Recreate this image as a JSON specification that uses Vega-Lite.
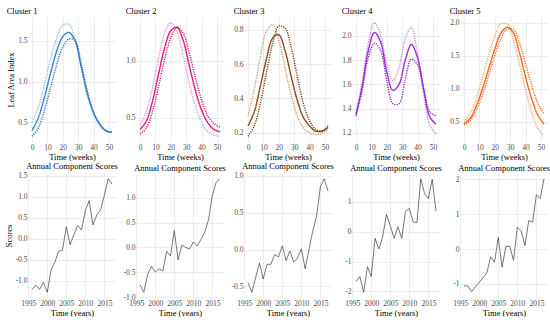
{
"$schema": "https://vega.github.io/schema/vega-lite/v6.json",
"padding": {"left": 4, "top": 6, "right": 0, "bottom": 0},
"background": "white",
"datasets": {
"lai": [
{"c":1,"s":"a","w":0,"v":0.50},{"c":1,"s":"a","w":4,"v":0.68},{"c":1,"s":"a","w":8,"v":0.96},{"c":1,"s":"a","w":12,"v":1.27},{"c":1,"s":"a","w":16,"v":1.53},{"c":1,"s":"a","w":20,"v":1.69},{"c":1,"s":"a","w":24,"v":1.70},{"c":1,"s":"a","w":28,"v":1.52},{"c":1,"s":"a","w":32,"v":1.17},{"c":1,"s":"a","w":36,"v":0.83},{"c":1,"s":"a","w":40,"v":0.60},{"c":1,"s":"a","w":44,"v":0.46},{"c":1,"s":"a","w":48,"v":0.39},{"c":1,"s":"a","w":52,"v":0.37},
{"c":1,"s":"m","w":0,"v":0.40},{"c":1,"s":"m","w":4,"v":0.55},{"c":1,"s":"m","w":8,"v":0.80},{"c":1,"s":"m","w":12,"v":1.10},{"c":1,"s":"m","w":16,"v":1.37},{"c":1,"s":"m","w":20,"v":1.55},{"c":1,"s":"m","w":24,"v":1.60},{"c":1,"s":"m","w":28,"v":1.50},{"c":1,"s":"m","w":32,"v":1.18},{"c":1,"s":"m","w":36,"v":0.85},{"c":1,"s":"m","w":40,"v":0.62},{"c":1,"s":"m","w":44,"v":0.48},{"c":1,"s":"m","w":48,"v":0.40},{"c":1,"s":"m","w":52,"v":0.38},
{"c":1,"s":"d","w":0,"v":0.33},{"c":1,"s":"d","w":4,"v":0.43},{"c":1,"s":"d","w":8,"v":0.64},{"c":1,"s":"d","w":12,"v":0.92},{"c":1,"s":"d","w":16,"v":1.20},{"c":1,"s":"d","w":20,"v":1.42},{"c":1,"s":"d","w":24,"v":1.52},{"c":1,"s":"d","w":28,"v":1.50},{"c":1,"s":"d","w":32,"v":1.22},{"c":1,"s":"d","w":36,"v":0.88},{"c":1,"s":"d","w":40,"v":0.63},{"c":1,"s":"d","w":44,"v":0.48},{"c":1,"s":"d","w":48,"v":0.40},{"c":1,"s":"d","w":52,"v":0.38},
{"c":2,"s":"a","w":0,"v":0.44},{"c":2,"s":"a","w":4,"v":0.55},{"c":2,"s":"a","w":8,"v":0.76},{"c":2,"s":"a","w":12,"v":1.02},{"c":2,"s":"a","w":16,"v":1.24},{"c":2,"s":"a","w":20,"v":1.33},{"c":2,"s":"a","w":24,"v":1.25},{"c":2,"s":"a","w":28,"v":1.05},{"c":2,"s":"a","w":32,"v":0.80},{"c":2,"s":"a","w":36,"v":0.60},{"c":2,"s":"a","w":40,"v":0.46},{"c":2,"s":"a","w":44,"v":0.38},{"c":2,"s":"a","w":48,"v":0.35},{"c":2,"s":"a","w":52,"v":0.34},
{"c":2,"s":"m","w":0,"v":0.40},{"c":2,"s":"m","w":4,"v":0.47},{"c":2,"s":"m","w":8,"v":0.64},{"c":2,"s":"m","w":12,"v":0.88},{"c":2,"s":"m","w":16,"v":1.11},{"c":2,"s":"m","w":20,"v":1.26},{"c":2,"s":"m","w":24,"v":1.29},{"c":2,"s":"m","w":28,"v":1.18},{"c":2,"s":"m","w":32,"v":0.96},{"c":2,"s":"m","w":36,"v":0.74},{"c":2,"s":"m","w":40,"v":0.57},{"c":2,"s":"m","w":44,"v":0.46},{"c":2,"s":"m","w":48,"v":0.40},{"c":2,"s":"m","w":52,"v":0.38},
{"c":2,"s":"d","w":0,"v":0.36},{"c":2,"s":"d","w":4,"v":0.41},{"c":2,"s":"d","w":8,"v":0.55},{"c":2,"s":"d","w":12,"v":0.77},{"c":2,"s":"d","w":16,"v":1.01},{"c":2,"s":"d","w":20,"v":1.20},{"c":2,"s":"d","w":24,"v":1.29},{"c":2,"s":"d","w":28,"v":1.24},{"c":2,"s":"d","w":32,"v":1.07},{"c":2,"s":"d","w":36,"v":0.85},{"c":2,"s":"d","w":40,"v":0.66},{"c":2,"s":"d","w":44,"v":0.52},{"c":2,"s":"d","w":48,"v":0.45},{"c":2,"s":"d","w":52,"v":0.42},
{"c":3,"s":"a","w":0,"v":0.30},{"c":3,"s":"a","w":4,"v":0.45},{"c":3,"s":"a","w":8,"v":0.64},{"c":3,"s":"a","w":12,"v":0.79},{"c":3,"s":"a","w":16,"v":0.83},{"c":3,"s":"a","w":20,"v":0.74},{"c":3,"s":"a","w":24,"v":0.58},{"c":3,"s":"a","w":28,"v":0.42},{"c":3,"s":"a","w":32,"v":0.30},{"c":3,"s":"a","w":36,"v":0.23},{"c":3,"s":"a","w":40,"v":0.20},{"c":3,"s":"a","w":44,"v":0.19},{"c":3,"s":"a","w":48,"v":0.20},{"c":3,"s":"a","w":52,"v":0.22},
{"c":3,"s":"m","w":0,"v":0.24},{"c":3,"s":"m","w":4,"v":0.32},{"c":3,"s":"m","w":8,"v":0.47},{"c":3,"s":"m","w":12,"v":0.63},{"c":3,"s":"m","w":16,"v":0.75},{"c":3,"s":"m","w":20,"v":0.77},{"c":3,"s":"m","w":24,"v":0.68},{"c":3,"s":"m","w":28,"v":0.53},{"c":3,"s":"m","w":32,"v":0.39},{"c":3,"s":"m","w":36,"v":0.29},{"c":3,"s":"m","w":40,"v":0.24},{"c":3,"s":"m","w":44,"v":0.21},{"c":3,"s":"m","w":48,"v":0.21},{"c":3,"s":"m","w":52,"v":0.23},
{"c":3,"s":"d","w":0,"v":0.18},{"c":3,"s":"d","w":4,"v":0.24},{"c":3,"s":"d","w":8,"v":0.37},{"c":3,"s":"d","w":12,"v":0.55},{"c":3,"s":"d","w":16,"v":0.72},{"c":3,"s":"d","w":20,"v":0.82},{"c":3,"s":"d","w":24,"v":0.81},{"c":3,"s":"d","w":28,"v":0.70},{"c":3,"s":"d","w":32,"v":0.53},{"c":3,"s":"d","w":36,"v":0.37},{"c":3,"s":"d","w":40,"v":0.27},{"c":3,"s":"d","w":44,"v":0.22},{"c":3,"s":"d","w":48,"v":0.21},{"c":3,"s":"d","w":52,"v":0.24},
{"c":4,"s":"a","w":0,"v":1.36},{"c":4,"s":"a","w":4,"v":1.62},{"c":4,"s":"a","w":8,"v":1.94},{"c":4,"s":"a","w":12,"v":2.11},{"c":4,"s":"a","w":16,"v":2.01},{"c":4,"s":"a","w":20,"v":1.76},{"c":4,"s":"a","w":24,"v":1.63},{"c":4,"s":"a","w":28,"v":1.74},{"c":4,"s":"a","w":32,"v":1.98},{"c":4,"s":"a","w":36,"v":2.07},{"c":4,"s":"a","w":40,"v":1.85},{"c":4,"s":"a","w":44,"v":1.52},{"c":4,"s":"a","w":48,"v":1.26},{"c":4,"s":"a","w":52,"v":1.19},
{"c":4,"s":"m","w":0,"v":1.35},{"c":4,"s":"m","w":4,"v":1.58},{"c":4,"s":"m","w":8,"v":1.88},{"c":4,"s":"m","w":12,"v":2.03},{"c":4,"s":"m","w":16,"v":1.95},{"c":4,"s":"m","w":20,"v":1.70},{"c":4,"s":"m","w":24,"v":1.55},{"c":4,"s":"m","w":28,"v":1.60},{"c":4,"s":"m","w":32,"v":1.80},{"c":4,"s":"m","w":36,"v":1.93},{"c":4,"s":"m","w":40,"v":1.82},{"c":4,"s":"m","w":44,"v":1.56},{"c":4,"s":"m","w":48,"v":1.33},{"c":4,"s":"m","w":52,"v":1.27},
{"c":4,"s":"d","w":0,"v":1.34},{"c":4,"s":"d","w":4,"v":1.55},{"c":4,"s":"d","w":8,"v":1.82},{"c":4,"s":"d","w":12,"v":1.94},{"c":4,"s":"d","w":16,"v":1.88},{"c":4,"s":"d","w":20,"v":1.63},{"c":4,"s":"d","w":24,"v":1.44},{"c":4,"s":"d","w":28,"v":1.44},{"c":4,"s":"d","w":32,"v":1.64},{"c":4,"s":"d","w":36,"v":1.81},{"c":4,"s":"d","w":40,"v":1.76},{"c":4,"s":"d","w":44,"v":1.56},{"c":4,"s":"d","w":48,"v":1.37},{"c":4,"s":"d","w":52,"v":1.34},
{"c":5,"s":"a","w":0,"v":0.50},{"c":5,"s":"a","w":4,"v":0.62},{"c":5,"s":"a","w":8,"v":0.86},{"c":5,"s":"a","w":12,"v":1.17},{"c":5,"s":"a","w":16,"v":1.50},{"c":5,"s":"a","w":20,"v":1.80},{"c":5,"s":"a","w":24,"v":1.98},{"c":5,"s":"a","w":28,"v":1.98},{"c":5,"s":"a","w":32,"v":1.75},{"c":5,"s":"a","w":36,"v":1.38},{"c":5,"s":"a","w":40,"v":0.98},{"c":5,"s":"a","w":44,"v":0.64},{"c":5,"s":"a","w":48,"v":0.40},{"c":5,"s":"a","w":52,"v":0.28},
{"c":5,"s":"m","w":0,"v":0.47},{"c":5,"s":"m","w":4,"v":0.55},{"c":5,"s":"m","w":8,"v":0.74},{"c":5,"s":"m","w":12,"v":1.00},{"c":5,"s":"m","w":16,"v":1.30},{"c":5,"s":"m","w":20,"v":1.60},{"c":5,"s":"m","w":24,"v":1.84},{"c":5,"s":"m","w":28,"v":1.93},{"c":5,"s":"m","w":32,"v":1.85},{"c":5,"s":"m","w":36,"v":1.55},{"c":5,"s":"m","w":40,"v":1.18},{"c":5,"s":"m","w":44,"v":0.85},{"c":5,"s":"m","w":48,"v":0.60},{"c":5,"s":"m","w":52,"v":0.46},
{"c":5,"s":"d","w":0,"v":0.45},{"c":5,"s":"d","w":4,"v":0.52},{"c":5,"s":"d","w":8,"v":0.68},{"c":5,"s":"d","w":12,"v":0.91},{"c":5,"s":"d","w":16,"v":1.20},{"c":5,"s":"d","w":20,"v":1.50},{"c":5,"s":"d","w":24,"v":1.76},{"c":5,"s":"d","w":28,"v":1.90},{"c":5,"s":"d","w":32,"v":1.90},{"c":5,"s":"d","w":36,"v":1.70},{"c":5,"s":"d","w":40,"v":1.38},{"c":5,"s":"d","w":44,"v":1.05},{"c":5,"s":"d","w":48,"v":0.78},{"c":5,"s":"d","w":52,"v":0.62}
],
"sc": [
{"c":1,"y":1996,"v":-1.21},{"c":1,"y":1997,"v":-1.10},{"c":1,"y":1998,"v":-1.20},{"c":1,"y":1999,"v":-1.03},{"c":1,"y":2000,"v":-1.27},{"c":1,"y":2001,"v":-0.74},{"c":1,"y":2002,"v":-0.56},{"c":1,"y":2003,"v":-0.29},{"c":1,"y":2004,"v":-0.27},{"c":1,"y":2005,"v":0.29},{"c":1,"y":2006,"v":-0.14},{"c":1,"y":2007,"v":0.10},{"c":1,"y":2008,"v":0.32},{"c":1,"y":2009,"v":0.21},{"c":1,"y":2010,"v":0.67},{"c":1,"y":2011,"v":0.91},{"c":1,"y":2012,"v":0.33},{"c":1,"y":2013,"v":0.57},{"c":1,"y":2014,"v":0.69},{"c":1,"y":2015,"v":1.03},{"c":1,"y":2016,"v":1.43},{"c":1,"y":2017,"v":1.30},
{"c":2,"y":1996,"v":-0.75},{"c":2,"y":1997,"v":-0.90},{"c":2,"y":1998,"v":-0.54},{"c":2,"y":1999,"v":-0.38},{"c":2,"y":2000,"v":-0.49},{"c":2,"y":2001,"v":-0.43},{"c":2,"y":2002,"v":-0.47},{"c":2,"y":2003,"v":-0.08},{"c":2,"y":2004,"v":-0.17},{"c":2,"y":2005,"v":0.34},{"c":2,"y":2006,"v":-0.25},{"c":2,"y":2007,"v":0.05},{"c":2,"y":2008,"v":0.00},{"c":2,"y":2009,"v":-0.03},{"c":2,"y":2010,"v":0.11},{"c":2,"y":2011,"v":0.03},{"c":2,"y":2012,"v":0.16},{"c":2,"y":2013,"v":0.31},{"c":2,"y":2014,"v":0.56},{"c":2,"y":2015,"v":1.05},{"c":2,"y":2016,"v":1.31},{"c":2,"y":2017,"v":1.38},
{"c":3,"y":1996,"v":-0.45},{"c":3,"y":1997,"v":-0.58},{"c":3,"y":1998,"v":-0.38},{"c":3,"y":1999,"v":-0.18},{"c":3,"y":2000,"v":-0.40},{"c":3,"y":2001,"v":-0.20},{"c":3,"y":2002,"v":-0.20},{"c":3,"y":2003,"v":-0.07},{"c":3,"y":2004,"v":-0.10},{"c":3,"y":2005,"v":0.05},{"c":3,"y":2006,"v":-0.15},{"c":3,"y":2007,"v":-0.02},{"c":3,"y":2008,"v":-0.17},{"c":3,"y":2009,"v":-0.12},{"c":3,"y":2010,"v":0.01},{"c":3,"y":2011,"v":-0.26},{"c":3,"y":2012,"v":0.00},{"c":3,"y":2013,"v":0.25},{"c":3,"y":2014,"v":0.45},{"c":3,"y":2015,"v":0.85},{"c":3,"y":2016,"v":0.96},{"c":3,"y":2017,"v":0.79},
{"c":4,"y":1996,"v":-1.67},{"c":4,"y":1997,"v":-1.50},{"c":4,"y":1998,"v":-2.03},{"c":4,"y":1999,"v":-1.17},{"c":4,"y":2000,"v":-1.50},{"c":4,"y":2001,"v":-0.22},{"c":4,"y":2002,"v":-0.58},{"c":4,"y":2003,"v":-0.17},{"c":4,"y":2004,"v":0.58},{"c":4,"y":2005,"v":0.20},{"c":4,"y":2006,"v":-0.22},{"c":4,"y":2007,"v":0.17},{"c":4,"y":2008,"v":-0.22},{"c":4,"y":2009,"v":0.69},{"c":4,"y":2010,"v":0.78},{"c":4,"y":2011,"v":0.33},{"c":4,"y":2012,"v":0.31},{"c":4,"y":2013,"v":1.78},{"c":4,"y":2014,"v":1.28},{"c":4,"y":2015,"v":1.11},{"c":4,"y":2016,"v":1.76},{"c":4,"y":2017,"v":0.69},
{"c":5,"y":1996,"v":-1.05},{"c":5,"y":1997,"v":-1.06},{"c":5,"y":1998,"v":-1.22},{"c":5,"y":1999,"v":-1.08},{"c":5,"y":2000,"v":-0.95},{"c":5,"y":2001,"v":-0.82},{"c":5,"y":2002,"v":-0.68},{"c":5,"y":2003,"v":-0.22},{"c":5,"y":2004,"v":-0.38},{"c":5,"y":2005,"v":0.33},{"c":5,"y":2006,"v":-0.52},{"c":5,"y":2007,"v":0.08},{"c":5,"y":2008,"v":0.08},{"c":5,"y":2009,"v":-0.32},{"c":5,"y":2010,"v":0.63},{"c":5,"y":2011,"v":0.52},{"c":5,"y":2012,"v":0.10},{"c":5,"y":2013,"v":0.82},{"c":5,"y":2014,"v":0.77},{"c":5,"y":2015,"v":1.56},{"c":5,"y":2016,"v":1.45},{"c":5,"y":2017,"v":2.02}
]
},
"columns": 5,
"bounds": "flush",
"spacing": {"column": 20, "row": 31},
"resolve": {"scale": {"color": "independent", "x": "independent", "y": "independent"}},
"concat": [
{"title": {"text": "Cluster 1", "anchor": "start"}, "width": 88, "height": 125, "data": {"name": "lai"}, "transform": [{"filter": "datum.c == 1"}],
 "mark": {"type": "line", "interpolate": "catmull-rom", "strokeWidth": 1.4},
 "encoding": {
  "x": {"field": "w", "type": "quantitative", "scale": {"domain": [-2.6, 54.6], "nice": false, "zero": false}, "axis": {"values": [0,10,20,30,40,50], "title": "Time (weeks)"}},
  "y": {"field": "v", "type": "quantitative", "scale": {"domain": [0.26, 1.79], "nice": false, "zero": false}, "axis": {"values": [0.5,1,1.5], "format": ".1f", "title": "Leaf Area Index"}},
  "color": {"field": "s", "type": "nominal", "scale": {"domain": ["a","m","d"], "range": ["#8dbbec","#3a80d6","#2a6cc4"]}, "legend": null},
  "strokeDash": {"field": "s", "type": "nominal", "scale": {"domain": ["a","m","d"], "range": [[1.2,1.2],[1,0],[1.2,1.2]]}, "legend": null}}},
{"title": {"text": "Cluster 2", "anchor": "start"}, "width": 88, "height": 125, "data": {"name": "lai"}, "transform": [{"filter": "datum.c == 2"}],
 "mark": {"type": "line", "interpolate": "catmull-rom", "strokeWidth": 1.4},
 "encoding": {
  "x": {"field": "w", "type": "quantitative", "scale": {"domain": [-2.6, 54.6], "nice": false, "zero": false}, "axis": {"values": [0,10,20,30,40,50], "title": "Time (weeks)"}},
  "y": {"field": "v", "type": "quantitative", "scale": {"domain": [0.29, 1.38], "nice": false, "zero": false}, "axis": {"values": [0.5,1], "format": ".1f", "title": null}},
  "color": {"field": "s", "type": "nominal", "scale": {"domain": ["a","m","d"], "range": ["#f38cc6","#e3197f","#d9127a"]}, "legend": null},
  "strokeDash": {"field": "s", "type": "nominal", "scale": {"domain": ["a","m","d"], "range": [[1.2,1.2],[1,0],[1.2,1.2]]}, "legend": null}}},
{"title": {"text": "Cluster 3", "anchor": "start"}, "width": 88, "height": 125, "data": {"name": "lai"}, "transform": [{"filter": "datum.c == 3"}],
 "mark": {"type": "line", "interpolate": "catmull-rom", "strokeWidth": 1.4},
 "encoding": {
  "x": {"field": "w", "type": "quantitative", "scale": {"domain": [-2.6, 54.6], "nice": false, "zero": false}, "axis": {"values": [0,10,20,30,40,50], "title": "Time (weeks)"}},
  "y": {"field": "v", "type": "quantitative", "scale": {"domain": [0.147, 0.873], "nice": false, "zero": false}, "axis": {"values": [0.2,0.4,0.6,0.8], "format": ".1f", "title": null}},
  "color": {"field": "s", "type": "nominal", "scale": {"domain": ["a","m","d"], "range": ["#c9966f","#8b4a1c","#74380e"]}, "legend": null},
  "strokeDash": {"field": "s", "type": "nominal", "scale": {"domain": ["a","m","d"], "range": [[1.2,1.2],[1,0],[1.2,1.2]]}, "legend": null}}},
{"title": {"text": "Cluster 4", "anchor": "start"}, "width": 88, "height": 125, "data": {"name": "lai"}, "transform": [{"filter": "datum.c == 4"}],
 "mark": {"type": "line", "interpolate": "catmull-rom", "strokeWidth": 1.4},
 "encoding": {
  "x": {"field": "w", "type": "quantitative", "scale": {"domain": [-2.6, 54.6], "nice": false, "zero": false}, "axis": {"values": [0,10,20,30,40,50], "title": "Time (weeks)"}},
  "y": {"field": "v", "type": "quantitative", "scale": {"domain": [1.123, 2.157], "nice": false, "zero": false}, "axis": {"values": [1.2,1.4,1.6,1.8,2.0], "format": ".1f", "title": null}},
  "color": {"field": "s", "type": "nominal", "scale": {"domain": ["a","m","d"], "range": ["#c986f2","#9a30d8","#8a24c6"]}, "legend": null},
  "strokeDash": {"field": "s", "type": "nominal", "scale": {"domain": ["a","m","d"], "range": [[1.2,1.2],[1,0],[1.2,1.2]]}, "legend": null}}},
{"title": {"text": "Cluster 5", "anchor": "start"}, "width": 88, "height": 125, "data": {"name": "lai"}, "transform": [{"filter": "datum.c == 5"}],
 "mark": {"type": "line", "interpolate": "catmull-rom", "strokeWidth": 1.4},
 "encoding": {
  "x": {"field": "w", "type": "quantitative", "scale": {"domain": [-2.6, 54.6], "nice": false, "zero": false}, "axis": {"values": [0,10,20,30,40,50], "title": "Time (weeks)"}},
  "y": {"field": "v", "type": "quantitative", "scale": {"domain": [0.194, 2.086], "nice": false, "zero": false}, "axis": {"values": [0.5,1,1.5,2], "format": ".1f", "title": null}},
  "color": {"field": "s", "type": "nominal", "scale": {"domain": ["a","m","d"], "range": ["#f8a66e","#f26b1d","#ec6a22"]}, "legend": null},
  "strokeDash": {"field": "s", "type": "nominal", "scale": {"domain": ["a","m","d"], "range": [[1.2,1.2],[1,0],[1.2,1.2]]}, "legend": null}}},
{"title": {"text": "Annual Component Scores", "offset": 1}, "width": 88, "height": 125, "data": {"name": "sc"}, "transform": [{"filter": "datum.c == 1"}],
 "mark": {"type": "line", "color": "#3c3c3c", "strokeWidth": 0.7},
 "encoding": {
  "x": {"field": "y", "type": "quantitative", "scale": {"domain": [1994.95, 2018.05], "nice": false, "zero": false}, "axis": {"values": [1995,2000,2005,2010,2015], "format": "d", "title": "Time (years)"}},
  "y": {"field": "v", "type": "quantitative", "scale": {"domain": [-1.405, 1.565], "nice": false, "zero": false}, "axis": {"values": [-1,-0.5,0,0.5,1,1.5], "format": ".1f", "title": "Scores"}}}},
{"title": {"text": "Annual Component Scores", "offset": 1}, "width": 88, "height": 125, "data": {"name": "sc"}, "transform": [{"filter": "datum.c == 2"}],
 "mark": {"type": "line", "color": "#3c3c3c", "strokeWidth": 0.7},
 "encoding": {
  "x": {"field": "y", "type": "quantitative", "scale": {"domain": [1994.95, 2018.05], "nice": false, "zero": false}, "axis": {"values": [1995,2000,2005,2010,2015], "format": "d", "title": "Time (years)"}},
  "y": {"field": "v", "type": "quantitative", "scale": {"domain": [-1.014, 1.494], "nice": false, "zero": false}, "axis": {"values": [-1,-0.5,0,0.5,1], "format": ".1f", "title": null}}}},
{"title": {"text": "Annual Component Scores", "offset": 1}, "width": 88, "height": 125, "data": {"name": "sc"}, "transform": [{"filter": "datum.c == 3"}],
 "mark": {"type": "line", "color": "#3c3c3c", "strokeWidth": 0.7},
 "encoding": {
  "x": {"field": "y", "type": "quantitative", "scale": {"domain": [1994.95, 2018.05], "nice": false, "zero": false}, "axis": {"values": [1995,2000,2005,2010,2015], "format": "d", "title": "Time (years)"}},
  "y": {"field": "v", "type": "quantitative", "scale": {"domain": [-0.657, 1.037], "nice": false, "zero": false}, "axis": {"values": [-0.5,0,0.5,1], "format": ".1f", "title": null}}}},
{"title": {"text": "Annual Component Scores", "offset": 1}, "width": 88, "height": 125, "data": {"name": "sc"}, "transform": [{"filter": "datum.c == 4"}],
 "mark": {"type": "line", "color": "#3c3c3c", "strokeWidth": 0.7},
 "encoding": {
  "x": {"field": "y", "type": "quantitative", "scale": {"domain": [1994.95, 2018.05], "nice": false, "zero": false}, "axis": {"values": [1995,2000,2005,2010,2015], "format": "d", "title": "Time (years)"}},
  "y": {"field": "v", "type": "quantitative", "scale": {"domain": [-2.22, 1.97], "nice": false, "zero": false}, "axis": {"values": [-2,-1,0,1], "format": "d", "title": null}}}},
{"title": {"text": "Annual Component Scores", "offset": 1}, "width": 88, "height": 125, "data": {"name": "sc"}, "transform": [{"filter": "datum.c == 5"}],
 "mark": {"type": "line", "color": "#3c3c3c", "strokeWidth": 0.7},
 "encoding": {
  "x": {"field": "y", "type": "quantitative", "scale": {"domain": [1994.95, 2018.05], "nice": false, "zero": false}, "axis": {"values": [1995,2000,2005,2010,2015], "format": "d", "title": "Time (years)"}},
  "y": {"field": "v", "type": "quantitative", "scale": {"domain": [-1.403, 2.183], "nice": false, "zero": false}, "axis": {"values": [-1,0,1,2], "format": "d", "title": null}}}}
],
"config": {
 "locale": {"number": {"decimal": ".", "thousands": ",", "grouping": [3], "currency": ["$", ""], "minus": "-"}},
 "view": {"stroke": null},
 "font": "Liberation Serif",
 "axis": {"domain": false, "ticks": false, "labelFont": "Liberation Serif", "labelFontSize": 7.5, "labelColor": "#4d4d4d", "labelPadding": 1, "labelFlush": false, "labelOverlap": false, "titleFont": "Liberation Serif", "titleFontSize": 8.5, "titleFontWeight": "normal", "titleColor": "#000000", "titlePadding": 2, "gridColor": "#e8e8e8", "gridWidth": 0.8},
 "title": {"font": "Liberation Serif", "fontSize": 8.5, "fontWeight": "normal", "color": "#000000", "offset": 2}
}
}
